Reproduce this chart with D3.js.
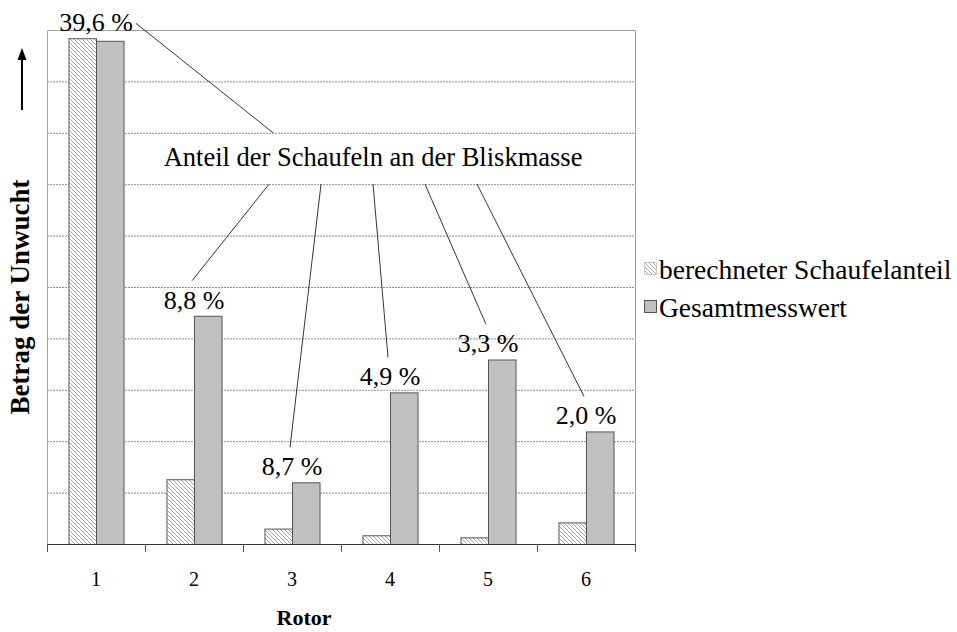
<!DOCTYPE html>
<html>
<head>
<meta charset="utf-8">
<script src="https://cdn.jsdelivr.net/npm/d3@7"></script>
<style>
  body { margin: 0; background: #fff; }
  svg { display: block; }
  text { font-family: "Liberation Serif", "Times New Roman", serif; fill: #000; }
</style>
</head>
<body>
<svg id="chart" width="957" height="632"></svg>
<script>
// Unbalance per rotor: computed blade share vs. total measured value
const rotors = ["1", "2", "3", "4", "5", "6"];
const seriesNames = ["berechneter Schaufelanteil", "Gesamtmesswert"];
const bladeShare = [9.84, 1.26, 0.30, 0.17, 0.13, 0.42];
const totalMeasured = [9.79, 4.44, 1.20, 2.95, 3.59, 2.19];
const shareLabels = ["39,6 %", "8,8 %", "8,7 %", "4,9 %", "3,3 %", "2,0 %"];
const gridValues = [1, 2, 3, 4, 5, 6, 7, 8, 9];
const calloutText = "Anteil der Schaufeln an der Bliskmasse";
const yAxisTitle = "Betrag der Unwucht";
const xAxisTitle = "Rotor";

const svg = d3.select("#chart");
const plot = { left: 47, top: 30, right: 635, bottom: 544 };

const x = d3.scaleBand().domain(rotors).range([plot.left, plot.right]).padding(0);
const xInner = d3.scaleBand().domain(seriesNames)
  .range([0, x.bandwidth()]).paddingInner(0).paddingOuter(0.78);
const y = d3.scaleLinear().domain([0, 10]).range([plot.bottom, plot.top]);

// hatch pattern for the computed blade share
const defs = svg.append("defs");
const pat = defs.append("pattern")
  .attr("id", "hatch").attr("patternUnits", "userSpaceOnUse")
  .attr("width", 4).attr("height", 4);
pat.append("rect").attr("width", 4).attr("height", 4).attr("fill", "#fff");
pat.append("path").attr("d", "M-1,-1 L5,5 M-1,3 L1,5 M3,-1 L5,1")
  .attr("stroke", "#a6a6a6").attr("stroke-width", 1);

const fills = { [seriesNames[0]]: "url(#hatch)", [seriesNames[1]]: "#c0c0c0" };

// gridlines
svg.append("g").selectAll("line").data(gridValues).join("line")
  .attr("x1", plot.left).attr("x2", plot.right)
  .attr("y1", d => y(d) + 0.5).attr("y2", d => y(d) + 0.5)
  .attr("stroke", "#8c8c8c").attr("stroke-width", 1)
  .attr("stroke-dasharray", "2,1");

// plot frame (left, top, right)
svg.append("path")
  .attr("d", `M${plot.left + 0.5},${plot.bottom} V${plot.top + 0.5} H${plot.right + 0.5} V${plot.bottom + 8}`)
  .attr("fill", "none").attr("stroke", "#a0a0a0").attr("stroke-width", 1);

// bars
const rows = rotors.map((r, i) => ({ rotor: r, values: [
  { key: seriesNames[0], value: bladeShare[i] },
  { key: seriesNames[1], value: totalMeasured[i] }
]}));

const groups = svg.append("g").selectAll("g").data(rows).join("g")
  .attr("transform", d => `translate(${x(d.rotor)},0)`);
groups.selectAll("rect").data(d => d.values).join("rect")
  .attr("x", d => xInner(d.key) + 0.5)
  .attr("y", d => y(d.value) + 0.5)
  .attr("width", xInner.bandwidth())
  .attr("height", d => y(0) - y(d.value))
  .attr("fill", d => fills[d.key])
  .attr("stroke", "#555").attr("stroke-width", 1);

// x axis
const xAxis = d3.axisBottom(x).tickSize(0).tickPadding(0);
const gx = svg.append("g").attr("transform", `translate(0,${plot.bottom + 0.5})`).call(xAxis);
gx.attr("font-family", null).attr("font-size", null);
gx.select(".domain").attr("stroke", "#333").attr("d", `M${plot.left},0H${plot.right + 1}`);
gx.selectAll(".tick text").attr("y", 41).attr("dy", 0)
  .style("font-size", "20px");
// category separators below the axis
svg.append("g").selectAll("line").data(rotors.concat(["end"])).join("line")
  .attr("x1", (d, i) => x.range()[0] + i * x.step() + 0.5)
  .attr("x2", (d, i) => x.range()[0] + i * x.step() + 0.5)
  .attr("y1", plot.bottom).attr("y2", plot.bottom + 8)
  .attr("stroke", "#555");

// axis titles
svg.append("text").attr("x", 304).attr("y", 625)
  .attr("text-anchor", "middle").style("font-size", "22px").style("font-weight", "bold")
  .text(xAxisTitle);
svg.append("text").attr("transform", "translate(29,297) rotate(-90)")
  .attr("text-anchor", "middle").style("font-size", "27px").style("font-weight", "bold")
  .text(yAxisTitle);

// upward arrow above the y title
svg.append("line").attr("x1", 22).attr("x2", 22).attr("y1", 110).attr("y2", 58)
  .attr("stroke", "#000").attr("stroke-width", 2);
svg.append("path").attr("d", "M22,48 L17.5,60 L26.5,60 Z").attr("fill", "#000");

// percentage labels above each rotor
const labelY = i => y(Math.max(bladeShare[i], totalMeasured[i])) - 7;
const labelX = i => x(rotors[i]) + x.bandwidth() / 2;
const labels = svg.append("g").selectAll("text").data(shareLabels).join("text")
  .attr("x", (d, i) => labelX(i)).attr("y", (d, i) => labelY(i))
  .attr("text-anchor", "middle").style("font-size", "26px")
  .text(d => d);

// callout text and leader lines
const calloutX = plot.left + (plot.right - plot.left) * 0.5545;
const calloutY = (y(7) + y(8)) / 2 + 7;
svg.append("text").attr("x", calloutX).attr("y", calloutY)
  .attr("text-anchor", "middle").style("font-size", "26.5px").text(calloutText);

const leaders = [];
const w0 = labels.nodes()[0].getBBox();
leaders.push([[w0.x + w0.width + 3, labelY(0) - 8], [calloutX - 100, y(8)]]);
for (let i = 1; i < shareLabels.length; i++) {
  leaders.push([[calloutX + (i - 3) * 52, y(7)], [labelX(i) - 2, labelY(i) - 28]]);
}
svg.append("g").selectAll("line").data(leaders).join("line")
  .attr("x1", d => d[0][0]).attr("y1", d => d[0][1])
  .attr("x2", d => d[1][0]).attr("y2", d => d[1][1])
  .attr("stroke", "#000").attr("stroke-width", 0.8);

// legend
const legend = svg.append("g").selectAll("g").data(seriesNames).join("g")
  .attr("transform", (d, i) => `translate(644,${262 + i * 38})`);
legend.append("rect").attr("x", 0.5).attr("y", 0.5).attr("width", 12).attr("height", 12)
  .attr("fill", d => fills[d]).attr("stroke", d => d === seriesNames[0] ? "#c8c8c8" : "#555");
legend.append("text").attr("x", 15).attr("y", 17)
  .style("font-size", "27.5px").text(d => d);
</script>
</body>
</html>
